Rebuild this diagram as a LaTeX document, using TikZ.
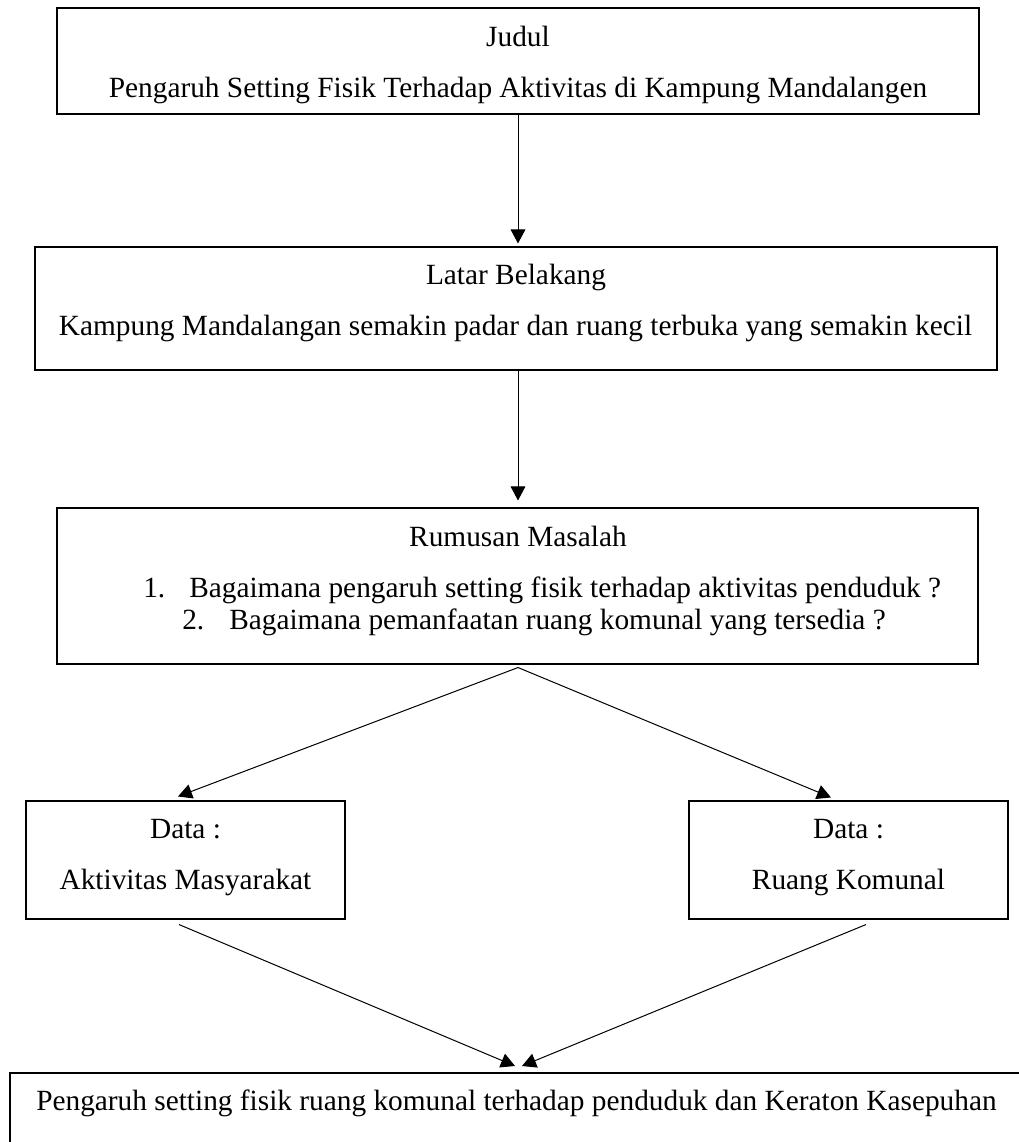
\documentclass[tikz,border=0pt]{standalone}
\usepackage{fontspec}
\setmainfont{Liberation Serif}
\usetikzlibrary{arrows.meta,calc}
\begin{document}
\begin{tikzpicture}[x=0.75pt,y=-0.75pt,
  font=\fontsize{22}{26}\selectfont,
  box/.style={draw=black,line width=0.8pt,rectangle,inner sep=0pt},
  txt/.style={inner sep=0pt,anchor=base},
  txtl/.style={inner sep=0pt,anchor=base west},
  arr/.style={line width=0.75pt,-{Triangle[length=10.5pt,width=11pt]}},
  ln/.style={line width=0.75pt}]
\clip (0,0) rectangle (1019,1142);
\useasboundingbox (0,0) rectangle (1019,1142);
\fill[white] (0,0) rectangle (1019,1142);
% boxes
\node[box,minimum width=922*0.75pt,minimum height=106*0.75pt] (judul) at (518,61) {};
\node[box,minimum width=962*0.75pt,minimum height=123*0.75pt] (latar) at (516,308.5) {};
\node[box,minimum width=921*0.75pt,minimum height=156*0.75pt] (rumusan) at (517.5,586) {};
\node[box,minimum width=319*0.75pt,minimum height=118*0.75pt] (dataL) at (185.5,860) {};
\node[box,minimum width=319*0.75pt,minimum height=118*0.75pt] (dataR) at (848.5,860) {};
\node[box,minimum width=1030*0.75pt,minimum height=100*0.75pt] (hasil) at (525,1123) {};
% texts
\node[txt] (judulA) at (518,46) {Judul};
\node[txt] (judulB) at (518,97) {Pengaruh Setting Fisik Terhadap Aktivitas di Kampung Mandalangen};
\node[txt] (latarA) at (516,284) {Latar Belakang};
\node[txt] (latarB) at (515.5,335) {Kampung Mandalangan semakin padar dan ruang terbuka yang semakin kecil};
\node[txt] (rumA) at (518,546) {Rumusan Masalah};
\node[txtl] (num1) at (143,597) {1.};
\node[txtl] (item1) at (189,597) {Bagaimana pengaruh setting fisik terhadap aktivitas penduduk ?};
\node[txtl] (num2) at (182,629) {2.};
\node[txtl] (item2) at (229,629) {Bagaimana pemanfaatan ruang komunal yang tersedia ?};
\node[txt] (dLA) at (185.5,838) {Data :};
\node[txt] (dLB) at (185.5,889) {Aktivitas Masyarakat};
\node[txt] (dRA) at (848.5,838) {Data :};
\node[txt] (dRB) at (848.5,889) {Ruang Komunal};
\node[txtl] (hasilT) at (36,1110) {Pengaruh setting fisik ruang komunal terhadap penduduk dan Keraton Kasepuhan};
% connector end points
\coordinate (apex) at ($(rumusan.south)+(0.5,3)$);
\coordinate (tipL) at ($(dataL.north)+(-7.5,-4)$);
\coordinate (tipR) at ($(dataR.north)+(-17.5,-3)$);
\coordinate (startL) at ($(dataL.south)+(-6.5,5)$);
\coordinate (startR) at ($(dataR.south)+(17.5,5)$);
\coordinate (endL) at (515,1066);
\coordinate (endR) at (522,1066);
% connectors
\draw[arr] (judul.south) -- ($(latar.north)+(2,-3)$);
\draw[arr] ($(latar.south)+(2,0)$) -- ($(rumusan.north)+(0.5,-7)$);
\draw[arr] (apex) -- (tipL);
\draw[arr] (apex) -- (tipR);
\draw[arr] (startL) -- (endL);
\draw[arr] (startR) -- (endR);
\end{tikzpicture}
\end{document}
